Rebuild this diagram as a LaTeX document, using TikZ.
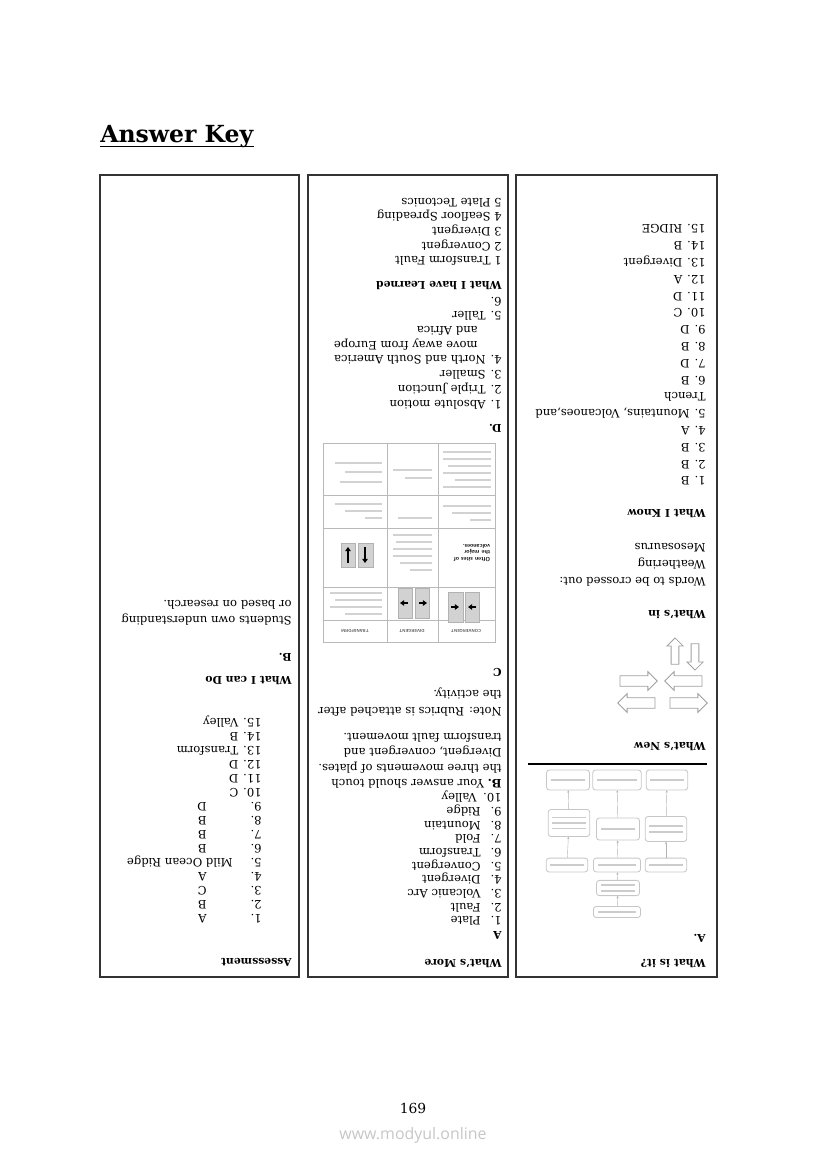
\documentclass[tikz,border=0pt]{standalone}
\usepackage{fontspec}
\setmainfont{DejaVu Serif}
\newfontfamily\sitefont{Open Sans}
\usetikzlibrary{shapes.arrows,arrows.meta}

\tikzset{
  colbox/.style={draw=black!80, line width=1.1pt},
  ans/.style={rotate=180, anchor=west, inner sep=0pt, text height=6pt, text depth=1.5pt, font=\fontsize{8.4}{10}\selectfont},
  head/.style={ans, font=\fontsize{7.8}{9}\selectfont\bfseries},
  fcbox/.style={draw=gray!45, rounded corners=2pt, line width=0.6pt, inner sep=0pt,
    path picture={\draw[gray!40, line width=1.3pt] ([xshift=3pt]path picture bounding box.west) -- ([xshift=-3pt]path picture bounding box.east);}},
  fcboxtwo/.style={fcbox, path picture={\foreach \d in {-2pt,2pt} \draw[gray!40, line width=1.1pt] ([xshift=3pt,yshift=\d]path picture bounding box.west) -- ([xshift=-3pt,yshift=\d]path picture bounding box.east);}},
  fcboxthree/.style={fcbox, path picture={\foreach \d in {-4pt,0pt,4pt} \draw[gray!40, line width=1.1pt] ([xshift=3pt,yshift=\d]path picture bounding box.west) -- ([xshift=-3pt,yshift=\d]path picture bounding box.east);}},
  fclink/.style={gray!60, line width=0.3pt, -{Stealth[length=1.6pt,width=1.6pt]}},
  blockarrow/.style={single arrow, draw=gray!75, line width=0.6pt, inner sep=3.5pt, single arrow head extend=3pt, minimum height=27pt},
  cellbar/.style={gray!35, line width=1.1pt},
  grid/.style={draw=gray!55, line width=0.5pt},
  platebox/.style={fill=gray!35, draw=gray!60, line width=0.4pt},
  platemove/.style={line width=1.3pt, -{Triangle[length=3pt,width=4pt]}},
  tablabel/.style={rotate=180, inner sep=0pt, font=\fontsize{3}{3.5}\selectfont\sffamily\bfseries, text=black!70},
}

\begin{document}
\begin{tikzpicture}[x=0.254mm, y=-0.254mm]
    \useasboundingbox (0,0) rectangle (826,1169);

    % Title
    \node[anchor=base west, inner sep=0pt, font=\fontsize{17}{19}\selectfont\bfseries] (title) at (100,143) {Answer Key};
    \draw[line width=1pt] ([yshift=-2.5pt]title.base west) -- ([yshift=-2.5pt]title.base east);

    % Three columns
    \draw[colbox] (100,175) rectangle (299,977);
    \draw[colbox] (308,175) rectangle (508,977);
    \draw[colbox] (516,175) rectangle (717,977);

    % Right column: What is it? ... What I Know
    \node[head] (isit) at (706,963) {What is it?};
    \node[head] (isitA) at (706,938) {A.};

    \node[fcbox] (fE) at (617,912) [minimum width=34pt, minimum height=8pt] {};
    \node[fcboxtwo] (fD) at (618,888) [minimum width=31pt, minimum height=11pt] {};
    \node[fcbox] (fC1) at (567,865) [minimum width=30pt, minimum height=10pt] {};
    \node[fcbox] (fC2) at (617,865) [minimum width=34pt, minimum height=10pt] {};
    \node[fcbox] (fC3) at (666,865) [minimum width=30pt, minimum height=10pt] {};
    \node[fcboxthree] (fB1) at (569,823) [minimum width=30pt, minimum height=19.5pt] {};
    \node[fcbox] (fB2) at (618,829) [minimum width=31pt, minimum height=16pt] {};
    \node[fcboxtwo] (fB3) at (666,829) [minimum width=30pt, minimum height=18pt] {};
    \node[fcbox] (fA1) at (568,780) [minimum width=31pt, minimum height=14.4pt] {};
    \node[fcbox] (fA2) at (617,780) [minimum width=35pt, minimum height=14.4pt] {};
    \node[fcbox] (fA3) at (667,780) [minimum width=30pt, minimum height=14.4pt] {};
    \draw[fclink] (fE) -- (fD);
    \draw[fclink] (fD) -- (fC2);
    \draw[fclink] (fC1) -- (fB1);
    \draw[fclink] (fC2) -- (fB2);
    \draw[fclink] (fC3) -- (fB3);
    \draw[fclink] (fB1) -- (fA1);
    \draw[fclink] (fB2) -- (fA2);
    \draw[fclink] (fB3) -- (fA3);

    \draw[line width=1.5pt] (528,764) -- (707,764);
    \node[head] (new) at (706,746) {What’s New};

    % hollow plate arrows
    \node[blockarrow, inner sep=2.5pt, minimum height=19pt, shape border rotate=90] (aup) at (675,653) {};
    \node[blockarrow, inner sep=2.5pt, minimum height=19pt, shape border rotate=270] (adown) at (695,655) {};
    \node[blockarrow, shape border rotate=180] (aleft1) at (686,681) {};
    \node[blockarrow] (aright1) at (636,681) {};
    \node[blockarrow] (aright2) at (686,703) {};
    \node[blockarrow, shape border rotate=180] (aleft2) at (639,703) {};

    \node[head] (isin) at (706,614) {What’s in};
    \node[ans] (cross) at (706,581) {Words to be crossed out:};
    \node[ans] (weath) at (706,564) {Weathering};
    \node[ans] (meso) at (706,547) {Mesosaurus};

    \node[head] (know) at (706,513) {What I Know};
    \foreach \t [count=\i] in {1. B, 2. B, 3. B, 4. A, {5. Mountains, Volcanoes,and}, Trench, 6. B, 7. D, 8. B, 9. D, 10. C, 11. D, 12. A, 13. Divergent, 14. B, 15. RIDGE}
        \node[ans] (know\i) at (706,{480-16.8*(\i-1)}) {\t};

    % Middle column: What's More ... What I have Learned
    \node[head] (more) at (502,963) {What’s More};
    \node[head] (moreA) at (502,935) {A};
    \foreach \w [count=\i] in {Plate, Fault, Volcanic Arc, Divergent, Convergent, Transform, Fold, Mountain, Ridge} {
        \node[ans] (moren\i) at (502,{920-13.67*(\i-1)}) {\i.};
        \node[ans] (morew\i) at (481,{920-13.67*(\i-1)}) {\w};
    }
    \node[ans] (moren10) at (502,797) {10.};
    \node[ans] (morew10) at (477,797) {Valley};
    \node[ans] (moreB1) at (502,783) {\textbf{B.} Your answer should touch};
    \node[ans] (moreB2) at (502,768) {the three movements of plates.};
    \node[ans] (moreB3) at (502,752) {Divergent, convergent and};
    \node[ans] (moreB4) at (502,737) {transform fault movement.};
    \node[ans] (note1) at (502,711) {Note: Rubrics is attached after};
    \node[ans] (note2) at (502,694) {the activity.};
    \node[head] (moreC) at (502,672) {C};

    % table of boundaries
    \draw[grid] (323,443) rectangle (495,642);
    \foreach \x in {387,438} \draw[grid] (\x,443) -- (\x,642);
    \foreach \y in {495,528,587,620} \draw[grid] (323,\y) -- (495,\y);
    \foreach \xa/\xb/\y in {335/382/463, 345/382/472, 340/382/482, 393/432/470, 405/432/478,
        443/491/452, 443/491/459, 448/491/466, 443/491/473, 455/491/480, 443/491/487,
        335/382/504, 345/382/511, 365/382/518, 398/432/518, 443/491/506, 452/491/513, 470/491/520,
        393/432/535, 396/432/542, 393/432/549, 393/432/556, 400/432/563, 410/432/570,
        330/382/593, 335/382/600, 330/382/607, 345/382/614}
        \draw[cellbar] (\xa,\y) -- (\xb,\y);
    \foreach \xa/\xb/\ya/\yb in {398/412/588/618, 415/429/588/618, 448/463/592/622, 465/479/592/622, 341/355/543/567, 358/373/543/567}
        \draw[platebox] (\xa,\ya) rectangle (\xb,\yb);
    \draw[platemove] (408,603) -- (400,603);
    \draw[platemove] (419,603) -- (427,603);
    \draw[platemove] (451,607) -- (459,607);
    \draw[platemove] (476,607) -- (468,607);
    \draw[platemove] (348,563) -- (348,547);
    \draw[platemove] (365,547) -- (365,563);
    \node[rotate=180, inner sep=0pt, align=left, font=\fontsize{4.2}{5}\selectfont\sffamily\bfseries] (often) at (472,553) {Often sites of\\the major\\volcanoes.};
    \node[tablabel] (hconv) at (466,631) {CONVERGENT};
    \node[tablabel] (hdiv) at (412,631) {DIVERGENT};
    \node[tablabel] (htrans) at (355,631) {TRANSFORM};

    \node[head] (moreD) at (502,428) {D.};
    \node[ans] (d1) at (502,404) {1. Absolute motion};
    \node[ans] (d2) at (502,389) {2. Triple Junction};
    \node[ans] (d3) at (502,374) {3. Smaller};
    \node[ans] (d4) at (502,359) {4. North and South America};
    \node[ans] (d4b) at (478,345) {move away from Europe};
    \node[ans] (d4c) at (478,330) {and Africa};
    \node[ans] (d5) at (502,315) {5. Taller};
    \node[ans] (d6) at (502,301) {6.};

    \node[head] (learned) at (502,285) {What I have Learned};
    \node[ans] (l1) at (502,260) {1 Transform Fault};
    \node[ans] (l2) at (502,246) {2 Convergent};
    \node[ans] (l3) at (502,231) {3 Divergent};
    \node[ans] (l4) at (502,216) {4 Seafloor Spreading};
    \node[ans] (l5) at (502,202) {5 Plate Tectonics};

    % Left column: Assessment, What I can Do
    \node[head] (assess) at (292,962) {Assessment};
    \foreach \t [count=\i] in {A, B, C, A} {
        \node[ans] (asn\i) at (262,{918-14*(\i-1)}) {\i.};
        \node[ans] (asw\i) at (207,{918-14*(\i-1)}) {\t};
    }
    \node[ans] (asn5) at (262,862) {5.};
    \node[ans] (asw5) at (233,862) {Mild Ocean Ridge};
    \foreach \t [count=\i from 6] in {B, B, B, D} {
        \node[ans] (asn\i) at (262,{918-14*(\i-1)}) {\i.};
        \node[ans] (asw\i) at (207,{918-14*(\i-1)}) {\t};
    }
    \foreach \t [count=\i from 10] in {C, D, D, Transform, B, Valley}
        \node[ans] (as\i) at (262,{918-14*(\i-1)}) {\i. \t};

    \node[head] (cando) at (292,680) {What I can Do};
    \node[head] (candoB) at (292,657) {B.};
    \node[ans] (own1) at (292,620) {Students own understanding};
    \node[ans] (own2) at (292,604) {or based on research.};

    % Footer
    \node[font=\fontsize{10}{12}\selectfont] (pageno) at (413,1108) {169};
    \node[font=\sitefont\fontsize{11.5}{13}\selectfont, text=gray!45] (site) at (413,1135) {www.modyul.online};
\end{tikzpicture}
\end{document}
